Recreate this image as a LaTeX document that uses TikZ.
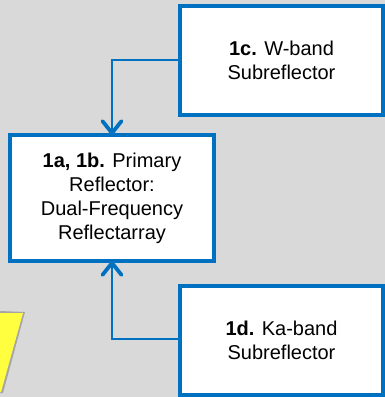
\documentclass[tikz,border=0pt]{standalone}
\usepackage{fontspec}
\setmainfont{Liberation Sans}
\usetikzlibrary{arrows.meta}
\definecolor{bg}{HTML}{D9D9D9}
\definecolor{blu}{HTML}{0070C0}
\definecolor{yel}{HTML}{FFFF40}
\begin{document}
\begin{tikzpicture}[x=1pt,y=-1pt,
  box/.style={draw=blu,line width=4pt,fill=white,align=center,inner sep=0pt,
    font=\fontsize{20pt}{24pt}\selectfont},
  conn/.style={draw=blu,line width=1.6pt,-{Straight Barb[length=12pt,width=19pt,line width=3.8pt,round]}}]
\fill[bg] (0,0) rectangle (385,397);
\useasboundingbox (0,0) rectangle (385,397);
% yellow shape
\fill[gray!70] (0,311) -- (25,312) -- (3,393) -- (0,393) -- cycle;
\fill[yel] (0,313) -- (23,313) -- (1,392) -- (0,392) -- cycle;
\node[box,minimum width=203pt,minimum height=109pt] (c) at (281.5,60.5) {\textbf{1c.} W-band\\Subreflector};
\node[box,minimum width=204pt,minimum height=126pt] (a) at (112,198) {\textbf{1a, 1b.} Primary\\Reflector:\\Dual-Frequency\\Reflectarray};
\node[box,minimum width=203pt,minimum height=109pt] (d) at (281.5,340.5) {\textbf{1d.} Ka-band\\Subreflector};
\coordinate (t) at (112,60);
\coordinate (b) at (112,339);
\draw[conn] (c.west |- t) -- (t) -- ([yshift=-2pt]a.north);
\draw[conn] (d.west |- b) -- (b) -- ([yshift=2pt]a.south);
\end{tikzpicture}
\end{document}
